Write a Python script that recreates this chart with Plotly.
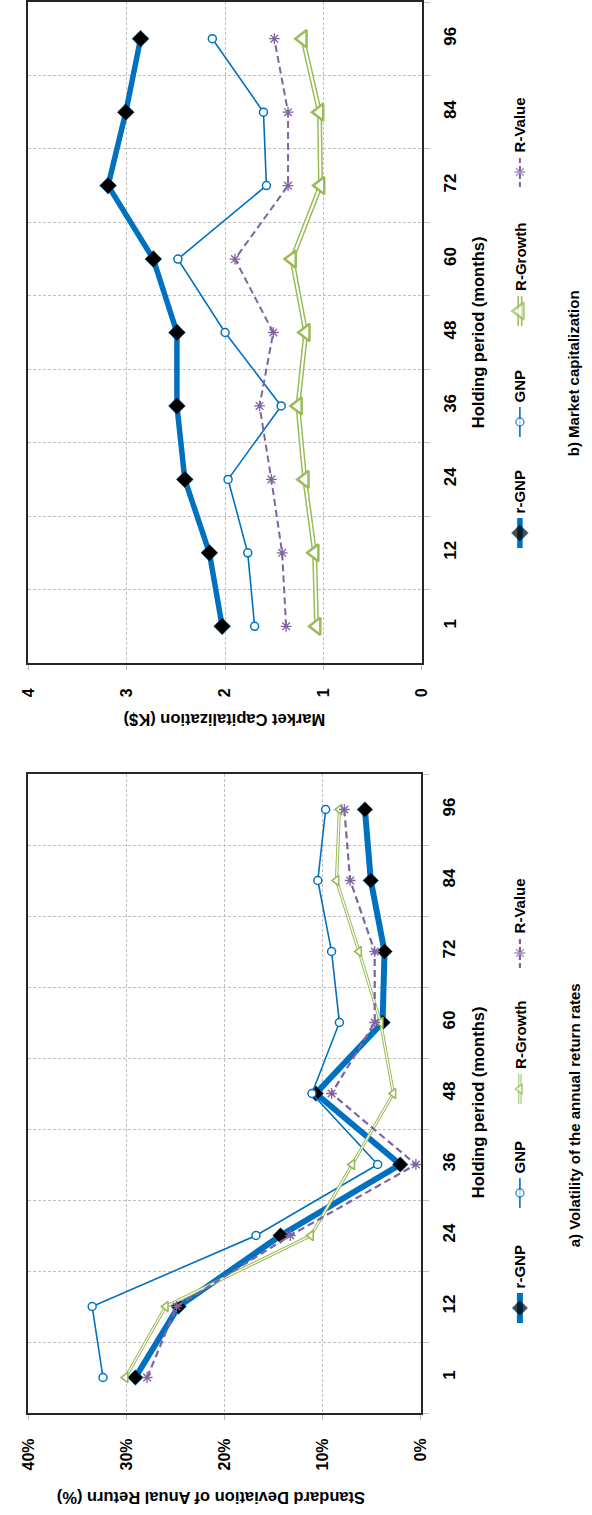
import plotly.graph_objects as go

# ---------------- data ----------------
categories = ["1", "12", "24", "36", "48", "60", "72", "84", "96"]
series_names = ["r-GNP", "GNP", "R-Growth", "R-Value"]

# a) Volatility of the annual return rates (% std. dev.)
vol_r_gnp = [29.1, 24.7, 14.3, 2.1, 10.7, 3.9, 3.7, 5.1, 5.7]
vol_gnp = [32.4, 33.5, 16.8, 4.4, 11.1, 8.3, 9.1, 10.5, 9.7]
vol_r_growth = [30.1, 26.0, 11.2, 7.0, 2.8, 4.1, 6.3, 8.6, 8.3]
vol_r_value = [27.9, 24.9, 13.3, 0.5, 9.1, 4.7, 4.7, 7.2, 7.8]
vol_ticks = [0, 10, 20, 30, 40]
vol_tick_labels = ["0%", "10%", "20%", "30%", "40%"]

# b) Market capitalization (K$)
cap_r_gnp = [2.03, 2.16, 2.41, 2.49, 2.49, 2.73, 3.19, 3.01, 2.86]
cap_gnp = [1.70, 1.77, 1.97, 1.43, 2.00, 2.48, 1.58, 1.61, 2.13]
cap_r_growth = [1.07, 1.09, 1.19, 1.26, 1.18, 1.32, 1.03, 1.04, 1.21]
cap_r_value = [1.38, 1.42, 1.53, 1.65, 1.51, 1.90, 1.36, 1.36, 1.50]
cap_ticks = [0, 1, 2, 3, 4]
cap_tick_labels = ["0", "1", "2", "3", "4"]

# ---------------- layout helpers ----------------
W, H = 592, 1515
FONT = "Liberation Sans, Arial, sans-serif"
BLUE = "#0070C0"
GREEN = "#9BBB59"
PURPLE = "#8064A2"
GRID = "#bfbfbf"
FRAME = "#262626"


def px(x):
    return x / W


def py(y):
    return 1 - y / H


panels = {
    "top": dict(x0=20, x1=425, y0=2, y1=663, xa="x", ya="y"),
    "bot": dict(x0=20, x1=424, y0=774, y1=1413, xa="x2", ya="y2"),
}

styles = {
    "top": {
        "r-GNP": dict(lw=5.5, msym="diamond", msize=13, mcol="black", mline=BLUE, mlw=0.5),
        "GNP": dict(lw=1.6, msym="circle", msize=8, mcol="white", mline=BLUE, mlw=1.5),
        "R-Growth": dict(lw=5, inner=2, msym="triangle-left", msize=15, mcol="white", mline=GREEN, mlw=2.5),
        "R-Value": dict(lw=2, msym="asterisk-open", msize=9, mcol=PURPLE, mline=PURPLE, mlw=1.3),
    },
    "bot": {
        "r-GNP": dict(lw=6, msym="diamond", msize=12, mcol="black", mline=BLUE, mlw=0.5),
        "GNP": dict(lw=1.6, msym="circle", msize=8, mcol="white", mline=BLUE, mlw=1.5),
        "R-Growth": dict(lw=3.2, inner=1.2, msym="triangle-left", msize=9, mcol="white", mline=GREEN, mlw=1.6),
        "R-Value": dict(lw=2.2, msym="asterisk-open", msize=9, mcol=PURPLE, mline=PURPLE, mlw=1.3),
    },
}
colors = {"r-GNP": BLUE, "GNP": BLUE, "R-Growth": GREEN, "R-Value": PURPLE}

panel_data = {
    "top": dict(zip(series_names, [cap_r_gnp, cap_gnp, cap_r_growth, cap_r_value])),
    "bot": dict(zip(series_names, [vol_r_gnp, vol_gnp, vol_r_growth, vol_r_value])),
}

fig = go.Figure()


def add_series(x, y, name, st, xa, ya, dash=None, msize=None):
    col = colors[name]
    size = st["msize"] if msize is None else msize
    marker = dict(symbol=st["msym"], size=size, color=st["mcol"],
                  line=dict(color=st["mline"], width=st["mlw"]))
    if "inner" in st:
        fig.add_trace(go.Scatter(x=x, y=y, mode="lines", xaxis=xa, yaxis=ya,
                                 line=dict(color=col, width=st["lw"]), showlegend=False,
                                 hoverinfo="skip"))
        fig.add_trace(go.Scatter(x=x, y=y, mode="lines+markers", xaxis=xa, yaxis=ya,
                                 line=dict(color="white", width=st["inner"]),
                                 marker=marker, name=name, showlegend=False))
    else:
        fig.add_trace(go.Scatter(x=x, y=y, mode="lines+markers", xaxis=xa, yaxis=ya,
                                 line=dict(color=col, width=st["lw"], dash=dash),
                                 marker=marker, name=name, showlegend=False))


for key, p in panels.items():
    for name in series_names:
        dash = "7px,4px" if name == "R-Value" else None
        add_series(panel_data[key][name], categories, name, styles[key][name], p["xa"], p["ya"], dash)

# ---------------- legend (drawn in a pixel overlay axis) ----------------
legend_pos = {
    "top": dict(x=526, ys=[533, 422, 311, 172]),
    "bot": dict(x=526, ys=[1308, 1193, 1089, 953]),
}
HALF = 15
annotations = []
for key, lp in legend_pos.items():
    for name, yc in zip(series_names, lp["ys"]):
        st = styles[key][name]
        dash = "5px,3px" if name == "R-Value" else None
        add_series([lp["x"], lp["x"], lp["x"]], [yc + HALF, yc, yc - HALF], name, st, "x3", "y3",
                   dash, msize=[0, st["msize"], 0])
        annotations.append(dict(x=px(lp["x"]), y=py(yc - HALF - 3), xref="paper", yref="paper",
                                text="<b>%s</b>" % name, textangle=-90, showarrow=False,
                                xanchor="center", yanchor="bottom",
                                font=dict(family=FONT, size=15, color="black")))


# ---------------- axes ----------------
def val_axis(p, ticks, labels, anchor):
    return dict(domain=[px(p["x0"]), px(p["x1"])], anchor=anchor,
                range=[ticks[-1], ticks[0]], tickvals=ticks, ticktext=labels,
                side="bottom", tickangle=-90, showgrid=True, gridcolor=GRID, griddash="3px,2px",
                gridwidth=1, zeroline=False, showline=True, mirror=True, linecolor=FRAME,
                linewidth=2, ticks="outside", ticklen=5, tickcolor=GRID,
                ticklabelstandoff=12,
                tickfont=dict(family=FONT, size=16, color="black", weight="bold"))


def cat_axis(p, anchor):
    return dict(domain=[py(p["y1"]), py(p["y0"])], anchor=anchor, type="category",
                categoryorder="array", categoryarray=categories, range=[-0.5, len(categories) - 0.5],
                side="right", tickangle=-90, tickson="boundaries", showgrid=True,
                gridcolor=GRID, griddash="3px,2px", gridwidth=1, zeroline=False,
                showline=True, mirror=True, linecolor=FRAME, linewidth=2,
                ticks="outside", ticklen=6, tickcolor=GRID, ticklabelstandoff=12,
                tickfont=dict(family=FONT, size=17, color="black", weight="bold"))


pt, pb = panels["top"], panels["bot"]
layout_axes = dict(
    xaxis=val_axis(pt, cap_ticks, cap_tick_labels, "y"),
    yaxis=cat_axis(pt, "x"),
    xaxis2=val_axis(pb, vol_ticks, vol_tick_labels, "y2"),
    yaxis2=cat_axis(pb, "x2"),
    xaxis3=dict(domain=[0, 1], range=[0, W], visible=False, anchor="y3", fixedrange=True),
    yaxis3=dict(domain=[0, 1], range=[H, 0], visible=False, anchor="x3", fixedrange=True),
)

# titles and captions
texts = [
    ("Market Capitalization (K$)", 222, 720, 180, 16.5, "center", "middle"),
    ("Holding period (months)", 483, 332, -90, 16.5, "center", "middle"),
    ("b) Market capitalization", 582, 458, -90, 15, "center", "bottom"),
    ("Standard Deviation of Anual Return (%)", 208, 1498, 180, 16.5, "center", "middle"),
    ("Holding period (months)", 483, 1102, -90, 16.5, "center", "middle"),
    ("a) Volatility of the annual return rates", 582, 1249, -90, 15, "center", "bottom"),
]
for t, x, y, ang, sz, xa_, ya_ in texts:
    annotations.append(dict(x=px(x), y=py(y), xref="paper", yref="paper", text="<b>%s</b>" % t,
                            textangle=ang, showarrow=False, xanchor=xa_, yanchor=ya_,
                            font=dict(family=FONT, size=sz, color="black")))

fig.update_layout(
    width=W, height=H, margin=dict(l=0, r=0, t=0, b=0),
    paper_bgcolor="white", plot_bgcolor="rgba(0,0,0,0)", showlegend=False,
    annotations=annotations, **layout_axes,
)

fig.write_html(
    "out.html",
    config={"displayModeBar": False},
    post_script="document.body.style.margin='0';document.body.style.overflow='hidden';",
)
